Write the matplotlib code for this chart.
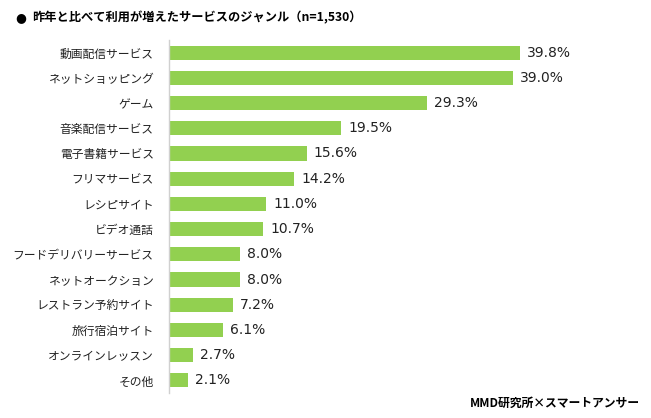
import matplotlib.pyplot as plt

plt.rcParams['font.family'] = ['Noto Sans CJK JP', 'DejaVu Sans']

categories = ["動画配信サービス", "ネットショッピング", "ゲーム", "音楽配信サービス", "電子書籍サービス",
              "フリマサービス", "レシピサイト", "ビデオ通話", "フードデリバリーサービス", "ネットオークション",
              "レストラン予約サイト", "旅行宿泊サイト", "オンラインレッスン", "その他"]
values = [39.8, 39.0, 29.3, 19.5, 15.6, 14.2, 11.0, 10.7, 8.0, 8.0, 7.2, 6.1, 2.7, 2.1]

W, H = 651, 418
fig = plt.figure(figsize=(W / 100, H / 100), dpi=100)
# axes: left edge at x=169px, top at y=40px, bottom at y=393px
ax = fig.add_axes([169 / W, 1 - 393 / H, 400 / W, 353 / H])

y = range(len(categories))
ax.barh(y, values, height=0.56, color="#92D050")
ax.set_xlim(0, 400 / 8.82)
ax.set_ylim(len(categories) - 0.5, -0.5)

for i, v in enumerate(values):
    ax.text(v + 0.8, i, f"{v:.1f}%", va="center", ha="left", fontsize=10,
            family="DejaVu Sans", color="#222222")

ax.set_yticks(list(y))
ax.set_yticklabels(categories, fontsize=8.5, color="#222222")
ax.tick_params(axis="y", length=0, pad=11)
ax.set_xticks([])
for s in ["top", "right", "bottom"]:
    ax.spines[s].set_visible(False)
ax.spines["left"].set_color("#d0d0d0")
ax.spines["left"].set_linewidth(1)

fig.text(15 / W, 1 - 18 / H, "●", fontsize=9, va="center", ha="left", family="DejaVu Sans")
fig.text(32 / W, 1 - 18 / H, "昨年と比べて利用が増えたサービスのジャンル（n=1,530）",
         fontsize=8.8, fontweight="bold", va="center", ha="left")
fig.text(640 / W, 1 - 403 / H, "MMD研究所×スマートアンサー", fontsize=8.5,
         fontweight="bold", va="center", ha="right")

fig.savefig("out.png", dpi=100)
